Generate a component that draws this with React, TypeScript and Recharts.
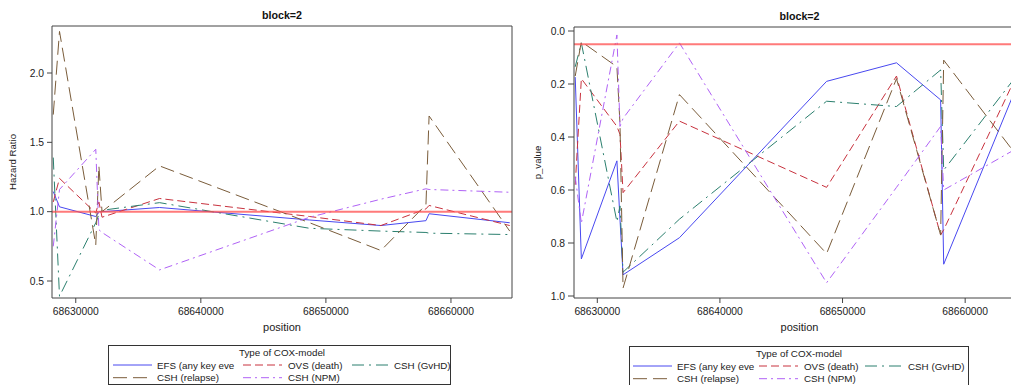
import React from 'react';
import { LineChart, Line, XAxis, YAxis, ReferenceLine, Legend } from 'recharts';

const FONT = "'Liberation Sans', Arial, Helvetica, sans-serif";

// ---- data ----
const positions = [68628200, 68628700, 68631600, 68631850, 68632100, 68636700, 68648700, 68654400, 68658000, 68658250, 68664700];

const seriesNames = ['EFS (any key eve', 'OVS (death)', 'CSH (GvHD)', 'CSH (relapse)', 'CSH (NPM)'];

// hazard ratios
const hrEFS = [1.145, 1.035, 0.965, 1.0, 1.0, 1.03, 0.94, 0.90, 0.935, 0.985, 0.92];
const hrOVS = [1.07, 1.24, 0.99, 1.07, 0.96, 1.095, 0.965, 0.90, 1.02, 1.045, 0.90];
const hrGvHD = [1.39, 0.39, 0.92, 0.98, 1.01, 1.065, 0.88, 0.86, 0.85, 0.845, 0.835];
const hrRelapse = [1.70, 2.30, 0.76, 1.33, 1.0, 1.33, 0.92, 0.72, 1.05, 1.69, 0.86];
const hrNPM = [0.75, 1.16, 1.45, 0.87, 0.85, 0.58, 0.96, 1.09, 1.165, 1.16, 1.14];

// p-values
const pEFS = [0.174, 0.86, 0.49, 0.71, 0.92, 0.78, 0.19, 0.12, 0.26, 0.88, 0.153];
const pOVS = [0.58, 0.18, 0.36, 0.39, 0.61, 0.34, 0.59, 0.17, 0.77, 0.75, 0.118];
const pGvHD = [0.135, 0.045, 0.72, 0.66, 0.91, 0.71, 0.265, 0.285, 0.147, 0.525, 0.138];
const pRelapse = [0.17, 0.04, 0.135, 0.35, 0.97, 0.24, 0.84, 0.18, 0.77, 0.11, 0.50];
const pNPM = [0.55, 0.725, 0.015, 0.36, 0.33, 0.045, 0.95, 0.59, 0.36, 0.60, 0.43];

const xTicks = [68630000, 68640000, 68650000, 68660000];
const hrTicks = [0.5, 1.0, 1.5, 2.0];
const pTicks = [0.0, 0.2, 0.4, 0.6, 0.8, 1.0];

const panelTitle = 'block=2';
const xLabel = 'position';
const hrLabel = 'Hazard Ratio';
const pLabel = 'p_value';
const legendTitle = 'Type of COX-model';
const hrRef = 1;
const pRef = 0.05;

// ---- styles ----
const keys = ['efs', 'ovs', 'gvhd', 'relapse', 'npm'];
const colors = ['#4848f0', '#c8323e', '#2b7f6e', '#7a5c3a', '#b062f6'];
const dashes = ['', '8 4', '12 5 2 5', '14 6', '8 4 2 4'];
const legendSlots = [
  { row: 0, col: 0 },
  { row: 0, col: 1 },
  { row: 0, col: 2 },
  { row: 1, col: 0 },
  { row: 1, col: 1 },
];

const hrData = positions.map((pos, i) => ({
  pos,
  efs: hrEFS[i],
  ovs: hrOVS[i],
  gvhd: hrGvHD[i],
  relapse: hrRelapse[i],
  npm: hrNPM[i],
}));
const pData = positions.map((pos, i) => ({
  pos,
  efs: pEFS[i],
  ovs: pOVS[i],
  gvhd: pGvHD[i],
  relapse: pRelapse[i],
  npm: pNPM[i],
}));

const X_DOMAIN: [number, number] = [68628100, 68664880];
const AXIS_COLOR = '#444';
const TEXT_COLOR = '#222';
const tickStyle = { fontSize: 10.3, fontFamily: FONT, fill: TEXT_COLOR };

type LegendCfg = {
  w: number;
  h: number;
  titleX: number;
  lineX: number[];
  textX: number[];
};

function makeLegend(cfg: LegendCfg) {
  const rowY = [20, 32.7];
  const rowBase = [23.5, 36.2];
  return () => (
    <svg width={cfg.w} height={cfg.h} style={{ display: 'block', overflow: 'visible' }}>
      <rect x={0.5} y={0.5} width={cfg.w - 1} height={cfg.h - 1} fill="#fff" stroke="#333" strokeWidth={1} />
      <text x={cfg.titleX} y={11} textAnchor="middle" fontSize={9.8} fontFamily={FONT} fill={TEXT_COLOR}>
        {legendTitle}
      </text>
      {seriesNames.map((name, i) => {
        const s = legendSlots[i];
        return (
          <g key={name}>
            <line
              x1={cfg.lineX[s.col]}
              x2={cfg.lineX[s.col] + 39}
              y1={rowY[s.row]}
              y2={rowY[s.row]}
              stroke={colors[i]}
              strokeWidth={1}
              strokeDasharray={dashes[i] || undefined}
            />
            <text x={cfg.textX[s.col]} y={rowBase[s.row]} fontSize={9.8} fontFamily={FONT} fill={TEXT_COLOR}>
              {name}
            </text>
          </g>
        );
      })}
    </svg>
  );
}

const leftLegend = makeLegend({ w: 343, h: 40, titleX: 174, lineX: [5, 135, 244], textX: [49, 180, 286] });
const rightLegend = makeLegend({ w: 340, h: 40, titleX: 170, lineX: [4, 130, 236], textX: [48, 175, 279] });

function renderLines() {
  return keys.map((k, i) => (
    <Line
      key={k}
      type="linear"
      dataKey={k}
      name={seriesNames[i]}
      stroke={colors[i]}
      strokeWidth={1}
      strokeDasharray={dashes[i] || undefined}
      dot={false}
      activeDot={false}
      isAnimationActive={false}
    />
  ));
}

function HRPanel() {
  return (
    <LineChart width={520} height={385} data={hrData} margin={{ top: 25, right: 7, left: 0, bottom: 57 }}>
      <XAxis
        type="number"
        dataKey="pos"
        domain={X_DOMAIN}
        ticks={xTicks}
        allowDataOverflow
        height={30}
        tickSize={5}
        tickMargin={5}
        tick={tickStyle}
        stroke={AXIS_COLOR}
        tickFormatter={(v: number) => String(v)}
        label={{ value: xLabel, position: 'bottom', offset: -5, style: { fontSize: 11, fontFamily: FONT, fill: TEXT_COLOR } }}
      />
      <XAxis
        xAxisId="top"
        orientation="top"
        type="number"
        dataKey="pos"
        domain={X_DOMAIN}
        allowDataOverflow
        height={1}
        tick={false}
        tickLine={false}
        stroke={AXIS_COLOR}
        label={{ value: panelTitle, position: 'top', offset: 6, style: { fontSize: 10.7, fontWeight: 'bold', fontFamily: FONT, fill: '#111' } }}
      />
      <YAxis
        type="number"
        domain={[0.3774, 2.339]}
        ticks={hrTicks}
        allowDataOverflow
        width={52}
        tickSize={5}
        tickMargin={3}
        tick={tickStyle}
        stroke={AXIS_COLOR}
        tickFormatter={(v: number) => v.toFixed(1)}
        label={{ value: hrLabel, angle: -90, position: 'insideLeft', offset: 13, textAnchor: 'middle', style: { fontSize: 9.6, fontFamily: FONT, fill: TEXT_COLOR, textAnchor: 'middle' } }}
      />
      <YAxis
        yAxisId="right"
        orientation="right"
        type="number"
        domain={[0.3774, 2.339]}
        width={1}
        tick={false}
        tickLine={false}
        stroke={AXIS_COLOR}
      />
      {renderLines()}
      <ReferenceLine y={hrRef} stroke="#ff4d4d" strokeOpacity={0.75} strokeWidth={2} />
      <Legend
        content={leftLegend}
        layout="horizontal"
        verticalAlign="middle"
        align="center"
        wrapperStyle={{ left: 108, top: 345, width: 343, height: 40 }}
      />
    </LineChart>
  );
}

function PPanel() {
  return (
    <LineChart width={520} height={385} data={pData} margin={{ top: 26, right: 14, left: 0, bottom: 57 }}>
      <XAxis
        type="number"
        dataKey="pos"
        domain={X_DOMAIN}
        ticks={xTicks}
        allowDataOverflow
        height={30}
        tickSize={5}
        tickMargin={5}
        tick={tickStyle}
        stroke={AXIS_COLOR}
        tickFormatter={(v: number) => String(v)}
        label={{ value: xLabel, position: 'bottom', offset: -5, style: { fontSize: 11, fontFamily: FONT, fill: TEXT_COLOR } }}
      />
      <XAxis
        xAxisId="top"
        orientation="top"
        type="number"
        dataKey="pos"
        domain={X_DOMAIN}
        allowDataOverflow
        height={1}
        tick={false}
        tickLine={false}
        stroke={AXIS_COLOR}
        label={{ value: panelTitle, position: 'top', offset: 6, style: { fontSize: 10.7, fontWeight: 'bold', fontFamily: FONT, fill: '#111' } }}
      />
      <YAxis
        type="number"
        domain={[-0.0151, 1.0075]}
        reversed
        ticks={pTicks}
        allowDataOverflow
        width={54}
        tickSize={6}
        tickMargin={3}
        tick={tickStyle}
        stroke={AXIS_COLOR}
        tickFormatter={(v: number) => v.toFixed(1)}
        label={{ value: pLabel, angle: -90, position: 'insideLeft', offset: 17.5, textAnchor: 'middle', style: { fontSize: 9.6, fontFamily: FONT, fill: TEXT_COLOR, textAnchor: 'middle' } }}
      />
      <YAxis
        yAxisId="right"
        orientation="right"
        type="number"
        domain={[-0.0151, 1.0075]}
        reversed
        width={1}
        tick={false}
        tickLine={false}
        stroke={AXIS_COLOR}
      />
      {renderLines()}
      <ReferenceLine y={pRef} stroke="#ff4d4d" strokeOpacity={0.75} strokeWidth={2} />
      <Legend
        content={rightLegend}
        layout="horizontal"
        verticalAlign="middle"
        align="center"
        wrapperStyle={{ left: 109, top: 346, width: 340, height: 40 }}
      />
    </LineChart>
  );
}

export default function App() {
  return (
    <div
      style={{
        position: 'fixed',
        left: 0,
        top: 0,
        width: 1011,
        height: 385,
        overflow: 'hidden',
        background: '#fff',
        fontFamily: FONT,
      }}
    >
      <div style={{ position: 'absolute', left: 0, top: 0 }}>
        <HRPanel />
      </div>
      <div style={{ position: 'absolute', left: 520, top: 0 }}>
        <PPanel />
      </div>
    </div>
  );
}
